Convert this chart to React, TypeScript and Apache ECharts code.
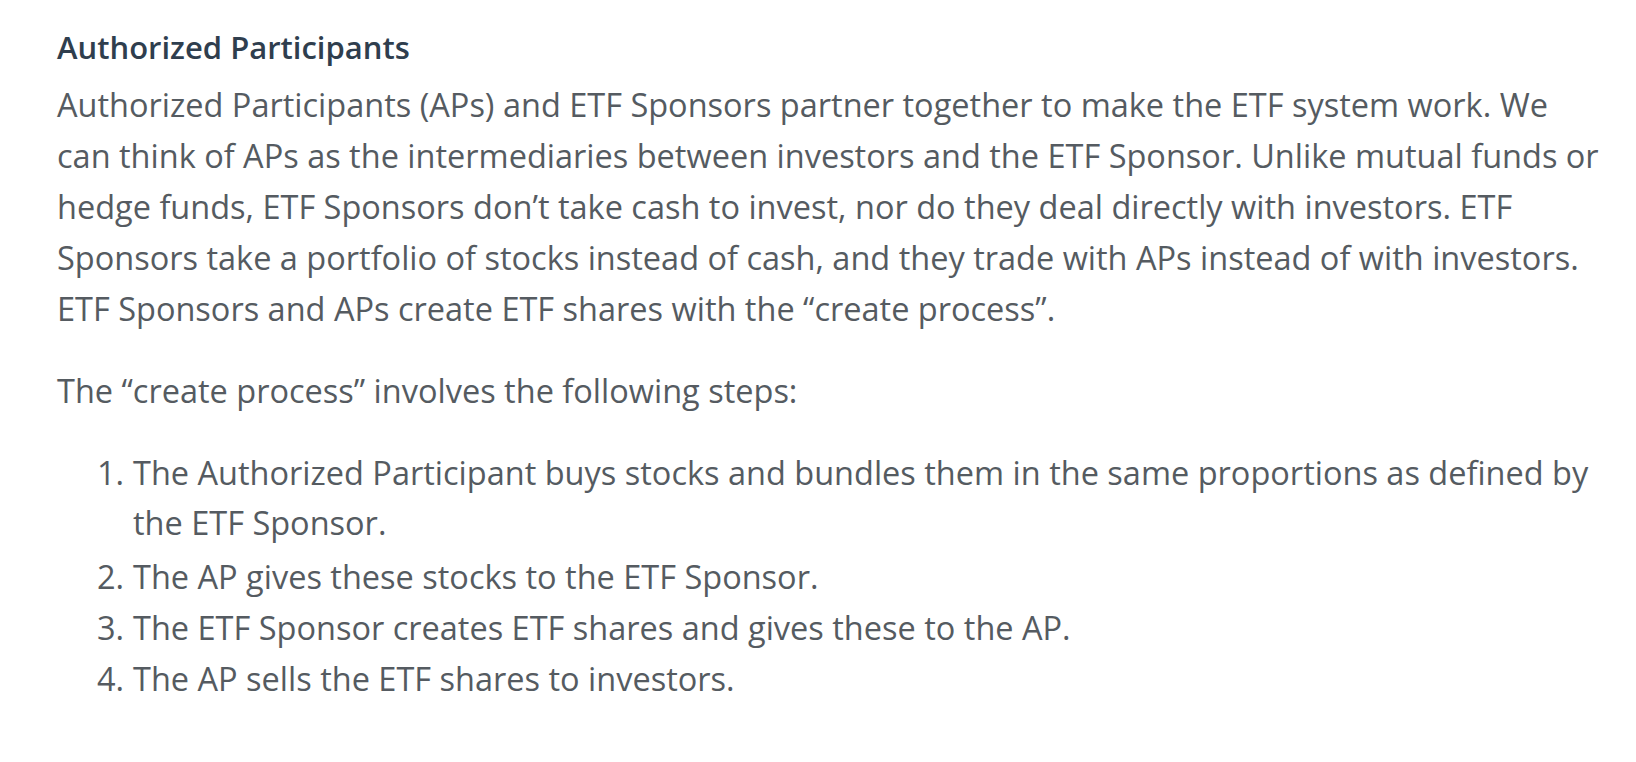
import React, { useEffect, useRef } from "react";
import * as echarts from "echarts";

const title = "Authorized Participants";
const paragraph1 = [
  "Authorized Participants (APs) and ETF Sponsors partner together to make the ETF system work. We",
  "can think of APs as the intermediaries between investors and the ETF Sponsor. Unlike mutual funds or",
  "hedge funds, ETF Sponsors don\u2019t take cash to invest, nor do they deal directly with investors. ETF",
  "Sponsors take a portfolio of stocks instead of cash, and they trade with APs instead of with investors.",
  "ETF Sponsors and APs create ETF shares with the \u201ccreate process\u201d.",
];
const paragraph2 = "The \u201ccreate process\u201d involves the following steps:";
const listNumbers = ["1.", "", "2.", "3.", "4."];
const listLines = [
  "The Authorized Participant buys stocks and bundles them in the same proportions as defined by",
  "the ETF Sponsor.",
  "The AP gives these stocks to the ETF Sponsor.",
  "The ETF Sponsor creates ETF shares and gives these to the AP.",
  "The AP sells the ETF shares to investors.",
];
const listY = [470, 520, 574, 625, 676];

export default function App() {
  const ref = useRef<HTMLDivElement>(null);
  useEffect(() => {
    const chart = echarts.init(ref.current!, null, { renderer: "svg" });
    const font = "'Open Sans', 'Noto Sans', sans-serif";
    const body = { fill: "#555b61", fontSize: 26 * 1.25, fontFamily: font };
    const ox = -8, oy = -6;
    const els: any[] = [];
    els.push({ type: "text", x: 57 + ox, y: 45 + oy, style: { text: title, fill: "#2f3e4e", fontSize: 31, fontWeight: 600, fontFamily: font, verticalAlign: "middle" } });
    paragraph1.forEach((t, i) =>
      els.push({ type: "text", x: 57 + ox, y: 102 + i * 51 + oy, style: { ...body, text: t, verticalAlign: "middle" } })
    );
    els.push({ type: "text", x: 57 + ox, y: 388 + oy, style: { ...body, text: paragraph2, verticalAlign: "middle" } });
    listLines.forEach((t, i) => {
      if (listNumbers[i])
        els.push({ type: "text", x: 124 + ox, y: listY[i] + oy, style: { ...body, text: listNumbers[i], align: "right", verticalAlign: "middle" } });
      els.push({ type: "text", x: 133 + ox, y: listY[i] + oy, style: { ...body, text: t, verticalAlign: "middle" } });
    });
    chart.setOption({ animation: false, backgroundColor: "#ffffff", graphic: els });
    return () => chart.dispose();
  }, []);
  return <div ref={ref} style={{ width: 1620, height: 746 }} />;
}
